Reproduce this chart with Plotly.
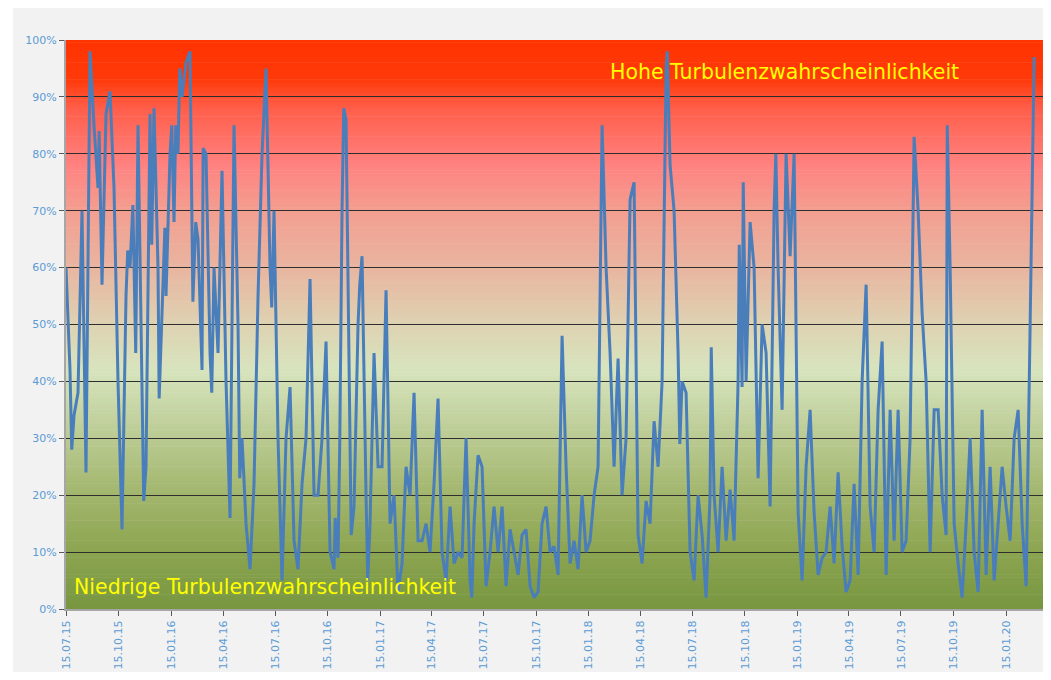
import plotly.graph_objects as go
import pandas as pd

# ---- data (weekly readings, percent) ----
start_date = "2015-07-15"
values = [
    60, 42, 34, 38, 70, 24, 98, 85, 74, 57,
    87, 91, 74, 40, 14, 55, 60, 60, 85, 40,
    25, 87, 88, 60, 52, 55, 80, 68, 80, 90,
    96, 98, 60, 65, 42, 80, 45, 60, 45, 77,
    40, 16, 85, 50, 30, 15, 7, 22, 55, 80,
    95, 60, 70, 30, 5, 30, 39, 12, 7, 22,
    30, 58, 20, 20, 30, 47, 10, 7, 9, 70,
    86, 30, 18, 50, 62, 20, 15, 45, 25, 25,
    56, 15, 20, 3, 8, 25, 20, 38, 12, 12,
    15, 10, 22, 37, 10, 5, 18, 8, 10, 9,
    30, 5, 15, 27, 25, 4, 10, 18, 10, 18,
    4, 14, 10, 6, 13, 14, 4, 2, 3, 15,
    18, 10, 11, 6, 48, 25, 8, 12, 7, 20,
    10, 12, 20, 25, 85, 60, 45, 25, 44, 20,
    30, 72, 75, 13, 8, 19, 15, 33, 25, 40,
    95, 78, 70, 45, 40, 38, 10, 5, 20, 13,
    2, 20, 20, 10, 25, 12, 21, 12, 40, 39,
    40, 68, 60, 23, 50, 45, 18, 70, 60, 35,
    80, 62, 80, 17, 5, 25, 35, 17, 6, 9,
    10, 18, 8, 24, 11, 3, 5, 22, 6, 40,
    57, 18, 10, 35, 47, 6, 35, 12, 35, 10,
    12, 30, 83, 70, 52, 40, 10, 35, 35, 20,
    13, 60, 15, 8, 2, 15, 30, 10, 3, 35,
    6, 25, 5, 15, 25, 18, 12, 30, 35, 15,
    4, 50, 97,
]
# additional in-between readings (days after start_date, percent)
extra_days = [10, 24, 58, 108, 117, 122, 136, 150, 163, 173, 185, 192, 199,
              222, 227, 240, 255, 304, 360, 471, 479, 486, 499, 514, 528,
              710, 1052, 1074, 1129, 1178, 1185, 1242, 1542]
extra_values = [28, 51, 84, 63, 71, 45, 19, 64, 37, 67, 85, 85, 95,
                54, 68, 81, 38, 23, 53, 16, 29, 88, 13, 57, 5,
                2, 98, 29, 46, 64, 75, 80, 85]

tick_dates = ["2015-07-15", "2015-10-15", "2016-01-15", "2016-04-15", "2016-07-15",
              "2016-10-15", "2017-01-15", "2017-04-15", "2017-07-15", "2017-10-15",
              "2018-01-15", "2018-04-15", "2018-07-15", "2018-10-15", "2019-01-15",
              "2019-04-15", "2019-07-15", "2019-10-15", "2020-01-15"]
tick_labels = ["15.07.15", "15.10.15", "15.01.16", "15.04.16", "15.07.16",
               "15.10.16", "15.01.17", "15.04.17", "15.07.17", "15.10.17",
               "15.01.18", "15.04.18", "15.07.18", "15.10.18", "15.01.19",
               "15.04.19", "15.07.19", "15.10.19", "15.01.20"]
high_label = "Hohe Turbulenzwahrscheinlichkeit"
low_label = "Niedrige Turbulenzwahrscheinlichkeit"

t0 = pd.Timestamp(start_date)
weekly_dates = list(pd.date_range(start_date, periods=len(values), freq="7D"))
extra_dates = [t0 + pd.Timedelta(days=d) for d in extra_days]
series = pd.Series(list(values) + list(extra_values),
                   index=weekly_dates + extra_dates).sort_index()
series = series[~series.index.duplicated(keep="first")]

# ---- background gradient (style) ----
stops = [
    (0.00, (0x77, 0x96, 0x40)),
    (0.10, (0x8C, 0xA4, 0x50)),
    (0.20, (0xA2, 0xB6, 0x6C)),
    (0.30, (0xBA, 0xCA, 0x92)),
    (0.42, (0xD7, 0xE4, 0xBD)),
    (0.50, (0xDE, 0xD2, 0xB2)),
    (0.60, (0xE9, 0xB5, 0xA0)),
    (0.70, (0xF3, 0x9E, 0x90)),
    (0.78, (0xFF, 0x82, 0x80)),
    (0.88, (0xFF, 0x5E, 0x4A)),
    (0.93, (0xFF, 0x3A, 0x0A)),
    (1.00, (0xFF, 0x33, 0x00)),
]


def color_at(t):
    for (a, ca), (b, cb) in zip(stops[:-1], stops[1:]):
        if a <= t <= b:
            f = (t - a) / (b - a) if b > a else 0
            c = [round(ca[k] + f * (cb[k] - ca[k])) for k in range(3)]
            return "rgb(%d,%d,%d)" % tuple(c)
    return "rgb(255,51,0)"


shapes = [dict(type="rect", xref="paper", yref="paper",
               x0=-0.0539, x1=1.02, y0=-0.2, y1=1.2,
               fillcolor="#F2F2F2", line=dict(width=0), layer="below")]
n = 200
for k in range(n):
    y0 = k / n
    y1 = (k + 1) / n
    shapes.append(dict(type="rect", xref="paper", yref="paper", x0=0, x1=1,
                       y0=y0, y1=min(1, y1 + 0.001), fillcolor=color_at((y0 + y1) / 2),
                       line=dict(width=0), layer="below"))

fig = go.Figure()
fig.add_trace(go.Scatter(x=series.index, y=series.values / 100, mode="lines",
                         line=dict(color="#4A7EBB", width=3),
                         showlegend=False, hoverinfo="skip"))

fig.update_layout(
    width=1043, height=664,
    margin=dict(l=58, r=2, t=32, b=63),
    paper_bgcolor="#FFFFFF",
    plot_bgcolor="#F2F2F2",
    shapes=shapes,
    font=dict(family="DejaVu Sans", color="#5B9BD5", size=11),
    annotations=[
        dict(text=high_label, xref="paper", yref="paper", x=0.5514, y=0.944,
             xanchor="left", yanchor="middle", showarrow=False,
             font=dict(family="DejaVu Sans", size=20.5, color="#FFFF00")),
        dict(text=low_label, xref="paper", yref="paper", x=0.006, y=0.039,
             xanchor="left", yanchor="middle", showarrow=False,
             font=dict(family="DejaVu Sans", size=20.5, color="#FFFF00")),
    ],
)
fig.update_xaxes(
    range=["2015-07-15", "2020-03-30"],
    tickvals=tick_dates, ticktext=tick_labels, tickangle=-90,
    ticks="outside", ticklen=5, tickcolor="#595959",
    showgrid=False, showline=True, linecolor="#A6A6A6", linewidth=2,
    tickfont=dict(color="#5B9BD5", size=11),
)
fig.update_yaxes(
    range=[0, 1], dtick=0.1, tickformat=".0%",
    ticks="outside", ticklen=5, tickcolor="#595959",
    showgrid=True, gridcolor="#2E2E2E", gridwidth=1,
    showline=True, linecolor="#A6A6A6", linewidth=2,
    zeroline=False,
    tickfont=dict(color="#5B9BD5", size=11),
)

fig.write_html("out.html")
